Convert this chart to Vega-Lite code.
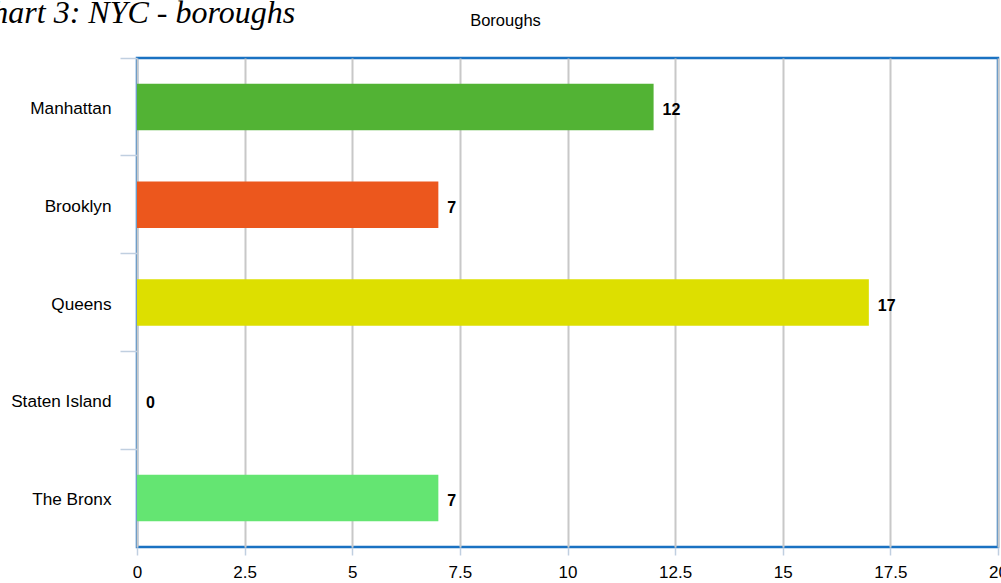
{
  "$schema": "https://vega.github.io/schema/vega-lite/v6.json",
  "autosize": "none",
  "width": 861,
  "height": 489,
  "padding": {"left": 137, "top": 58, "right": 3, "bottom": 36},
  "background": "white",
  "title": {
    "text": "Chart 3: NYC - boroughs",
    "anchor": "start",
    "frame": "group",
    "font": "Liberation Serif",
    "fontStyle": "italic",
    "fontWeight": "normal",
    "fontSize": 32,
    "color": "black",
    "baseline": "alphabetic",
    "offset": 0,
    "dx": -166,
    "dy": 43
  },
  "config": {
    "view": {"stroke": "#1a72c2", "strokeWidth": 2.5},
    "font": "Liberation Sans"
  },
  "data": {
    "values": [
      {"borough": "Manhattan", "count": 12},
      {"borough": "Brooklyn", "count": 7},
      {"borough": "Queens", "count": 17},
      {"borough": "Staten Island", "count": 0},
      {"borough": "The Bronx", "count": 7}
    ]
  },
  "encoding": {
    "y": {
      "field": "borough",
      "type": "nominal",
      "sort": null,
      "scale": {"paddingInner": 0, "paddingOuter": 0},
      "axis": {
        "title": "Boroughs",
        "titleAngle": 0,
        "titleX": 368,
        "titleY": -33,
        "titleAlign": "center",
        "titleBaseline": "alphabetic",
        "titleFont": "Liberation Sans",
        "titleFontSize": 16.5,
        "titleFontWeight": "normal",
        "titleColor": "black",
        "labelFont": "Liberation Sans",
        "labelFontSize": 17.2,
        "labelColor": "black",
        "labelPadding": 9,
        "labelOffset": 2,
        "tickSize": 17,
        "tickColor": "#c0cfe0",
        "tickWidth": 1.5,
        "bandPosition": 0,
        "domain": false,
        "grid": false
      }
    },
    "x": {
      "field": "count",
      "type": "quantitative",
      "scale": {"domain": [0, 20], "nice": false},
      "axis": {
        "title": null,
        "values": [0, 2.5, 5, 7.5, 10, 12.5, 15, 17.5, 20],
        "format": ".1~f",
        "labelFont": "Liberation Sans",
        "labelFontSize": 17,
        "labelColor": "black",
        "labelPadding": 9,
        "labelFlush": false,
        "tickSize": 8,
        "tickColor": "#c0cfe0",
        "tickWidth": 1.5,
        "domain": false,
        "grid": true,
        "gridColor": "#c8c8c8",
        "gridWidth": 2
      }
    }
  },
  "layer": [
    {
      "mark": {"type": "bar", "height": {"band": 0.475}},
      "encoding": {
        "color": {
          "field": "borough",
          "type": "nominal",
          "legend": null,
          "scale": {
            "domain": ["Manhattan", "Brooklyn", "Queens", "Staten Island", "The Bronx"],
            "range": ["#52b334", "#ec571d", "#dddf00", "#24cbe5", "#64e572"]
          }
        }
      }
    },
    {
      "mark": {
        "type": "text",
        "align": "left",
        "baseline": "middle",
        "dx": 9,
        "dy": 3,
        "font": "Liberation Sans",
        "fontSize": 16,
        "fontWeight": "bold",
        "color": "black"
      },
      "encoding": {"text": {"field": "count", "type": "quantitative"}}
    }
  ]
}
